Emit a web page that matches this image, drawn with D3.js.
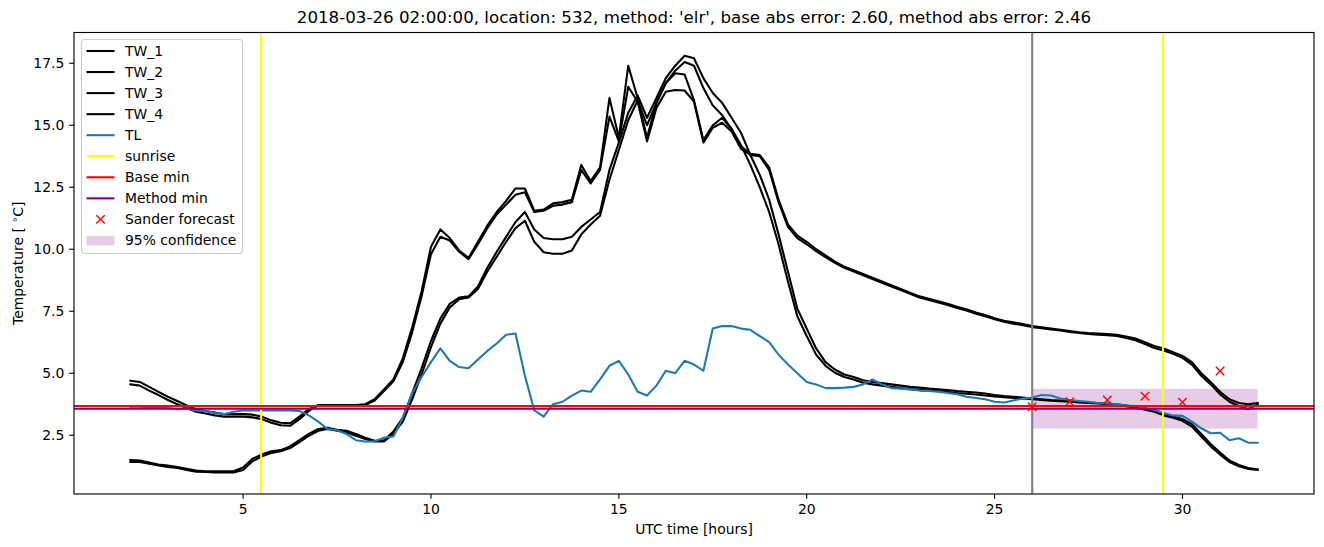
<!DOCTYPE html>
<html><head><meta charset="utf-8">
<script src="https://cdn.jsdelivr.net/npm/d3@7"></script>
<style>
html,body{margin:0;padding:0;background:#fff;}
svg{display:block;font-family:"DejaVu Sans",sans-serif;}
</style></head>
<body>
<svg id="chart" width="1324" height="547"></svg>
<script>
const hours = [2,2.25,2.5,2.75,3,3.25,3.5,3.75,4,4.25,4.5,4.75,5,5.25,5.5,5.75,6,6.25,6.5,6.75,7,7.25,7.5,7.75,8,8.25,8.5,8.75,9,9.25,9.5,9.75,10,10.25,10.5,10.75,11,11.25,11.5,11.75,12,12.25,12.5,12.75,13,13.25,13.5,13.75,14,14.25,14.5,14.75,15,15.25,15.5,15.75,16,16.25,16.5,16.75,17,17.25,17.5,17.75,18,18.25,18.5,18.75,19,19.25,19.5,19.75,20,20.25,20.5,20.75,21,21.25,21.5,21.75,22,22.25,22.5,22.75,23,23.25,23.5,23.75,24,24.25,24.5,24.75,25,25.25,25.5,25.75,26,26.25,26.5,26.75,27,27.25,27.5,27.75,28,28.25,28.5,28.75,29,29.25,29.5,29.75,30,30.25,30.5,30.75,31,31.25,31.5,31.75,32];

const TW_1 = [4.70,4.65,4.45,4.25,4.05,3.88,3.70,3.55,3.48,3.42,3.35,3.35,3.35,3.33,3.25,3.10,3.00,2.98,3.25,3.55,3.72,3.72,3.72,3.72,3.72,3.75,3.95,4.35,4.75,5.60,6.85,8.30,10.10,10.80,10.45,9.95,9.65,10.30,10.95,11.50,11.95,12.45,12.45,11.55,11.60,11.85,11.90,12.00,
  13.40,12.75,13.30,16.10,14.50,17.40,16.10,14.50,15.90,16.70,17.10,17.05,16.00,14.40,15.00,15.30,14.85,14.15,13.85,13.80,13.30,12.00,
  11.00,10.55,10.30,10.00,9.75,9.50,9.30,9.15,9.00,8.85,8.70,8.55,8.40,8.25,8.10,8.00,7.90,7.80,7.68,7.58,7.45,7.35,7.22,7.12,7.05,6.98,6.90,6.85,6.80,6.75,6.70,6.65,6.62,6.60,6.58,6.55,6.48,6.40,6.25,6.10,6.00,5.85,5.70,5.45,5.00,4.65,4.25,3.95,3.80,3.75,3.80];
const TW_2 = [4.55,4.50,4.30,4.12,3.92,3.75,3.60,3.45,3.38,3.30,3.25,3.25,3.25,3.22,3.15,3.00,2.90,2.88,3.15,3.48,3.70,3.70,3.70,3.70,3.70,3.72,3.90,4.28,4.68,5.45,6.65,8.10,9.80,10.50,10.35,9.90,9.60,10.20,10.85,11.40,11.80,12.20,12.30,11.50,11.55,11.75,11.80,11.90,
  13.20,12.65,13.20,15.35,14.35,16.55,15.95,14.35,15.70,16.35,16.42,16.40,15.95,14.30,14.90,15.10,14.75,14.05,13.80,13.75,13.20,11.90,
  10.90,10.45,10.20,9.92,9.68,9.45,9.25,9.10,8.95,8.80,8.65,8.50,8.35,8.20,8.05,7.95,7.85,7.75,7.63,7.53,7.40,7.30,7.18,7.08,7.00,6.94,6.86,6.82,6.76,6.72,6.66,6.62,6.58,6.55,6.53,6.50,6.42,6.33,6.18,6.02,5.92,5.78,5.62,5.35,4.90,4.55,4.15,3.85,3.68,3.55,3.75];
const TW_3 = [1.50,1.48,1.40,1.32,1.28,1.22,1.15,1.08,1.05,1.05,1.05,1.05,1.20,1.55,1.72,1.85,1.90,2.05,2.30,2.55,2.75,2.80,2.72,2.68,2.55,2.40,2.28,2.30,2.65,3.20,4.20,5.20,6.30,7.20,7.80,8.05,8.10,8.50,9.25,9.90,10.50,11.10,11.50,10.80,10.45,10.40,10.40,10.50,
  10.90,11.20,11.50,13.20,14.30,15.50,16.20,15.30,16.10,16.90,17.40,17.80,17.70,16.90,16.30,15.90,15.30,14.70,13.80,13.00,12.00,10.60,9.10,
  7.60,6.80,6.00,5.45,5.15,4.95,4.85,4.72,4.65,4.60,4.55,4.50,4.45,4.42,4.38,4.35,4.32,4.28,4.25,4.22,4.18,4.12,4.08,4.05,4.02,3.98,3.95,3.92,3.90,3.88,3.85,3.82,3.80,3.78,3.75,3.70,3.65,3.58,3.50,3.35,3.25,3.15,2.95,2.55,2.15,1.80,1.48,1.30,1.18,1.12];
const TW_4 = [1.42,1.42,1.35,1.28,1.22,1.18,1.10,1.03,1.02,1.00,1.00,1.00,1.10,1.45,1.65,1.78,1.85,1.98,2.22,2.48,2.68,2.75,2.68,2.62,2.48,2.35,2.25,2.25,2.55,3.05,3.95,4.95,6.05,7.00,7.65,7.98,8.05,8.40,9.10,9.70,10.30,10.85,11.15,10.30,9.88,9.82,9.82,9.95,
  10.60,11.00,11.35,12.80,14.00,15.20,16.00,15.00,15.90,16.70,17.20,17.55,17.40,16.50,15.80,15.40,14.85,14.20,13.40,12.50,11.50,10.20,8.70,
  7.30,6.50,5.75,5.30,5.02,4.85,4.75,4.62,4.55,4.50,4.45,4.40,4.36,4.33,4.30,4.27,4.24,4.20,4.17,4.14,4.10,4.06,4.03,4.00,3.98,3.95,3.92,3.89,3.87,3.85,3.82,3.80,3.78,3.75,3.72,3.67,3.61,3.53,3.45,3.30,3.20,3.08,2.85,2.45,2.05,1.72,1.42,1.25,1.14,1.10];
const TL = [3.65,3.65,3.62,3.65,3.60,3.55,3.58,3.50,3.48,3.40,3.35,3.45,3.50,3.50,3.50,3.50,3.50,3.50,3.48,3.30,3.05,2.75,2.70,2.55,2.30,2.25,2.25,2.40,2.45,3.20,4.20,4.85,5.45,6.00,5.50,5.25,5.20,5.55,5.90,6.20,6.55,6.60,4.90,3.50,3.25,3.75,3.85,4.10,4.30,4.25,4.75,5.30,5.50,4.95,4.25,4.10,4.50,5.10,5.00,5.50,5.35,5.10,6.80,6.90,6.90,6.80,6.75,6.50,6.25,5.75,5.35,5.00,4.65,4.55,4.40,4.40,4.42,4.45,4.55,4.75,4.55,4.40,4.38,4.35,4.30,4.28,4.25,4.20,4.15,4.05,4.00,3.95,3.85,3.82,3.90,3.98,4.02,4.12,4.10,3.98,3.92,3.88,3.85,3.80,3.78,3.75,3.70,3.68,3.60,3.52,3.40,3.30,3.28,3.05,2.78,2.58,2.60,2.30,2.38,2.20,2.20];

const sunriseHours = [5.48, 29.48];
const forecastStart = 26;
const baseMin = 3.68;
const methodMin = 3.57;
const forecastHours = [26, 27, 28, 29, 30, 31];
const forecastValues = [3.65, 3.85, 3.92, 4.07, 3.83, 5.09];
const confLow = 2.77;
const confHigh = 4.37;
const confRange = [26, 32];
const xTicks = [5, 10, 15, 20, 25, 30];
const yTicks = [2.5, 5.0, 7.5, 10.0, 12.5, 15.0, 17.5];
const titleText = "2018-03-26 02:00:00, location: 532, method: 'elr', base abs error: 2.60, method abs error: 2.46";
const legendLabels = ["TW_1","TW_2","TW_3","TW_4","TL","sunrise","Base min","Method min","Sander forecast","95% confidence"];

const L = 74, R = 1314, T = 32.5, B = 494;
const svg = d3.select("#chart");
const x = d3.scaleLinear().domain([0.5, 33.5]).range([L, R]);
const y = d3.scaleLinear().domain([0.13, 18.74]).range([B, T]);

svg.append("defs").append("clipPath").attr("id","clip")
  .append("rect").attr("x",L).attr("y",T).attr("width",R-L).attr("height",B-T);
const plot = svg.append("g").attr("clip-path","url(#clip)");

plot.append("rect")
  .attr("x", x(confRange[0])).attr("width", x(confRange[1]) - x(confRange[0]))
  .attr("y", y(confHigh)).attr("height", y(confLow) - y(confHigh))
  .attr("fill", "purple").attr("fill-opacity", 0.2);

const line = d3.line().x((d,i)=>x(hours[i])).y(d=>y(d));
[TW_1, TW_2, TW_3, TW_4].forEach(s => {
  plot.append("path").attr("d", line(s)).attr("fill","none")
    .attr("stroke","black").attr("stroke-width",2.08).attr("stroke-linejoin","round").attr("stroke-linecap","square");
});
plot.append("path").attr("d", line(TL)).attr("fill","none")
  .attr("stroke","#1f77b4").attr("stroke-width",2.08).attr("stroke-linejoin","round").attr("stroke-linecap","square");

plot.append("line").attr("x1",x(forecastStart)).attr("x2",x(forecastStart)).attr("y1",T).attr("y2",B)
  .attr("stroke","grey").attr("stroke-width",2.08);
sunriseHours.forEach(h => {
  plot.append("line").attr("x1",x(h)).attr("x2",x(h)).attr("y1",T).attr("y2",B)
    .attr("stroke","yellow").attr("stroke-width",2.08);
});
plot.append("line").attr("x1",L).attr("x2",R).attr("y1",y(baseMin)).attr("y2",y(baseMin))
  .attr("stroke","red").attr("stroke-width",2.08);
plot.append("line").attr("x1",L).attr("x2",R).attr("y1",y(methodMin)).attr("y2",y(methodMin))
  .attr("stroke","purple").attr("stroke-width",2.08);

const ms = 4.2;
forecastHours.forEach((h,i) => {
  const cx = x(h), cy = y(forecastValues[i]);
  plot.append("path").attr("d", `M${cx-ms},${cy-ms}L${cx+ms},${cy+ms}M${cx-ms},${cy+ms}L${cx+ms},${cy-ms}`)
    .attr("stroke","red").attr("stroke-width",1.4).attr("fill","none");
});

svg.append("rect").attr("x",L).attr("y",T).attr("width",R-L).attr("height",B-T)
  .attr("fill","none").attr("stroke","black").attr("stroke-width",1.11);

const fs = 13.9;
xTicks.forEach(t => {
  svg.append("line").attr("x1",x(t)).attr("x2",x(t)).attr("y1",B).attr("y2",B+4.86).attr("stroke","black").attr("stroke-width",1.11);
  svg.append("text").attr("x",x(t)).attr("y",B+4.86+4.86+fs*0.76).attr("text-anchor","middle")
    .attr("font-size",fs).attr("fill","black").text(d3.format("d")(t));
});
yTicks.forEach(t => {
  svg.append("line").attr("x1",L).attr("x2",L-4.86).attr("y1",y(t)).attr("y2",y(t)).attr("stroke","black").attr("stroke-width",1.11);
  svg.append("text").attr("x",L-4.86-4.86).attr("y",y(t)).attr("dy","0.36em").attr("text-anchor","end")
    .attr("font-size",fs).attr("fill","black").text(d3.format(".1f")(t));
});

svg.append("text").attr("x",(L+R)/2).attr("y",534).attr("text-anchor","middle").attr("font-size",fs).text("UTC time [hours]");
const yl = svg.append("text").attr("transform",`translate(23,${(T+B)/2}) rotate(-90)`).attr("text-anchor","middle").attr("font-size",fs);
yl.append("tspan").text("Temperature [ ");
yl.append("tspan").attr("font-size",fs*0.7).attr("dy",-5).text("∘");
yl.append("tspan").attr("dy",5).text("C]");

svg.append("text").attr("x",(L+R)/2).attr("y",23).attr("text-anchor","middle").attr("font-size",16.67).text(titleText);

const lg = svg.append("g");
lg.append("rect").attr("x",81.5).attr("y",39.5).attr("width",161).attr("height",214).attr("rx",3)
  .attr("fill","white").attr("fill-opacity",0.8).attr("stroke","#cccccc").attr("stroke-width",1.11);
const legendStyles = [
  {type:"line",color:"black"},{type:"line",color:"black"},{type:"line",color:"black"},{type:"line",color:"black"},
  {type:"line",color:"#1f77b4"},{type:"line",color:"yellow"},{type:"line",color:"red"},{type:"line",color:"purple"},
  {type:"x",color:"red"},{type:"patch",color:"purple"}
];
legendLabels.forEach((lab,i) => {
  const cy = 51 + i*21.05;
  const st = legendStyles[i];
  if (st.type === "line") {
    lg.append("line").attr("x1",86.5).attr("x2",114.5).attr("y1",cy).attr("y2",cy).attr("stroke",st.color).attr("stroke-width",2.08);
  } else if (st.type === "x") {
    const cx = 100.5;
    lg.append("path").attr("d",`M${cx-ms},${cy-ms}L${cx+ms},${cy+ms}M${cx-ms},${cy+ms}L${cx+ms},${cy-ms}`).attr("stroke","red").attr("stroke-width",1.4);
  } else {
    lg.append("rect").attr("x",86.5).attr("y",cy-4.5).attr("width",28).attr("height",9.5).attr("fill",st.color).attr("fill-opacity",0.2);
  }
  lg.append("text").attr("x",125).attr("y",cy).attr("dy","0.36em").attr("font-size",fs).text(lab);
});
</script>
</body></html>
